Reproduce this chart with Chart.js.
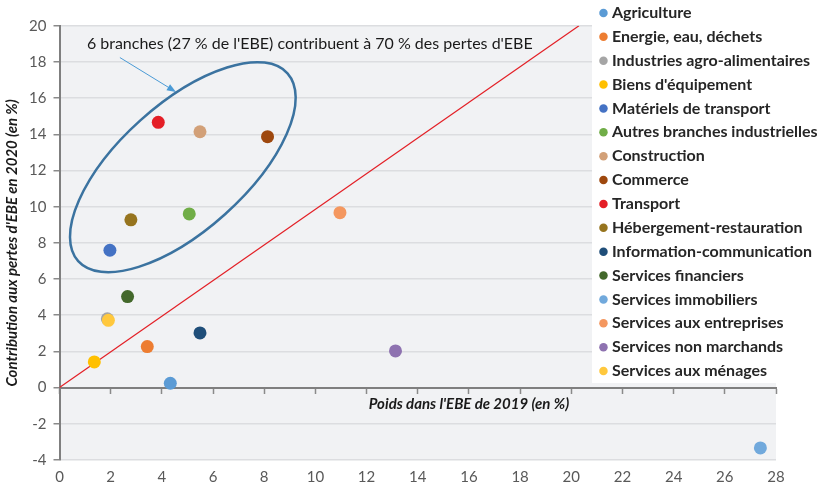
<!DOCTYPE html>
<html lang="fr">
<head>
<meta charset="utf-8">
<title>Contribution aux pertes d'EBE</title>
<script src="https://cdn.jsdelivr.net/npm/chart.js@4.4.1/dist/chart.umd.min.js"></script>
<style>
  html, body { margin: 0; padding: 0; background: #fff; }
  canvas { display: block; }
</style>
</head>
<body>
<canvas id="myChart" width="831" height="486"></canvas>
<script>
// donnees
var branches = [
    "Agriculture",
    "Energie, eau, déchets",
    "Industries agro-alimentaires",
    "Biens d'équipement",
    "Matériels de transport",
    "Autres branches industrielles",
    "Construction",
    "Commerce",
    "Transport",
    "Hébergement-restauration",
    "Information-communication",
    "Services financiers",
    "Services immobiliers",
    "Services aux entreprises",
    "Services non marchands",
    "Services aux ménages"
];
var poids2019 = [4.33, 3.43, 1.87, 1.36, 1.97, 5.07, 5.49, 8.13, 3.86, 2.79, 5.49, 2.66, 27.39, 10.96, 13.13, 1.91];
var pertes2020 = [0.24, 2.27, 3.80, 1.42, 7.59, 9.60, 14.14, 13.87, 14.66, 9.27, 3.02, 5.03, -3.33, 9.67, 2.03, 3.72];
var couleurs = [
    "#5b9bd5", "#ed7d31", "#a5a5a5", "#ffc000",
    "#4472c4", "#70ad47", "#d2a078", "#9e480e",
    "#e41e26", "#96741e", "#1f4e79", "#43682b",
    "#71a9dc", "#f4975f", "#8e72b0", "#ffc83d"
];
var diagonaleX = [0, 20.3];
var diagonaleY = [0, 20];

var texteBulle = "6 branches (27 % de l'EBE) contribuent à 70 % des pertes d'EBE";
var titreX = "Poids dans l'EBE de 2019 (en %)";
var titreY = "Contribution aux pertes d'EBE en 2020 (en %)";

// placement des annotations (en unites des axes)
var bullePos = { x: 1.07, y: 19.0 };
var flecheDe = { x: 2.36, y: 18.24 };
var flecheA = { x: 4.55, y: 16.34 };
var ellipseCentre = { x: 4.82, y: 12.18 };

var police = "Lato";

var datasets = [];
for (var i = 0; i < branches.length; i++) {
    datasets.push({
        label: branches[i],
        data: [{ x: poids2019[i], y: pertes2020[i] }],
        backgroundColor: couleurs[i],
        borderColor: couleurs[i],
        borderWidth: 0,
        pointRadius: 6.5,
        pointHoverRadius: 6.5,
        order: branches.length - i
    });
}
var diag = [];
for (var j = 0; j < diagonaleX.length; j++) {
    diag.push({ x: diagonaleX[j], y: diagonaleY[j] });
}
datasets.push({
    type: 'line',
    label: 'diagonale',
    data: diag,
    borderColor: '#e31f26',
    borderWidth: 1.2,
    pointRadius: 0,
    fill: false,
    order: 100
});

var decor = {
    id: 'decor',
    beforeDraw: function (chart) {
        var a = chart.chartArea;
        var ctx = chart.ctx;
        ctx.save();
        ctx.fillStyle = '#f1f2f4';
        ctx.fillRect(a.left, a.top, a.right - a.left, a.bottom - a.top);
        ctx.restore();
    },
    afterLayout: function (chart) {
        var l = chart.legend;
        l.left = 595.1;
        l.top = -2.9;
        l.right = 831;
        l.bottom = 486;
    },
    afterDraw: function (chart) {
        var ctx = chart.ctx;
        var sx = chart.scales.x, sy = chart.scales.y;
        ctx.save();
        // fond blanc de la legende
        ctx.fillStyle = '#ffffff';
        ctx.fillRect(592, 0, 239, 383);
        ctx.restore();
        chart.legend.draw();

        ctx.save();
        // texte de la bulle
        ctx.font = '16px ' + police;
        ctx.fillStyle = '#1a1a1a';
        ctx.textBaseline = 'middle';
        ctx.textAlign = 'left';
        ctx.fillText(texteBulle, sx.getPixelForValue(bullePos.x), sy.getPixelForValue(bullePos.y));

        // fleche
        var x1 = sx.getPixelForValue(flecheDe.x), y1 = sy.getPixelForValue(flecheDe.y);
        var x2 = sx.getPixelForValue(flecheA.x), y2 = sy.getPixelForValue(flecheA.y);
        var ang = Math.atan2(y2 - y1, x2 - x1);
        ctx.strokeStyle = '#4b9bd6';
        ctx.fillStyle = '#4b9bd6';
        ctx.lineWidth = 1;
        ctx.beginPath();
        ctx.moveTo(x1, y1);
        ctx.lineTo(x2 - 8 * Math.cos(ang), y2 - 8 * Math.sin(ang));
        ctx.stroke();
        ctx.beginPath();
        ctx.moveTo(x2, y2);
        ctx.lineTo(x2 - 9 * Math.cos(ang) + 3.5 * Math.sin(ang), y2 - 9 * Math.sin(ang) - 3.5 * Math.cos(ang));
        ctx.lineTo(x2 - 9 * Math.cos(ang) - 3.5 * Math.sin(ang), y2 - 9 * Math.sin(ang) + 3.5 * Math.cos(ang));
        ctx.closePath();
        ctx.fill();

        // ellipse autour des 6 branches
        ctx.beginPath();
        ctx.ellipse(sx.getPixelForValue(ellipseCentre.x), sy.getPixelForValue(ellipseCentre.y),
            140.6, 63.2, -41.9 * Math.PI / 180, 0, 2 * Math.PI);
        ctx.strokeStyle = '#3b73a0';
        ctx.lineWidth = 2.5;
        ctx.stroke();

        // titre de l'axe des x, sous la ligne du zero
        ctx.font = 'italic bold 15px ' + police;
        ctx.fillStyle = '#1a1a1a';
        ctx.textAlign = 'center';
        ctx.fillText(titreX, sx.getPixelForValue(16), sy.getPixelForValue(0) + 17);
        ctx.restore();
    }
};

var ctx = document.getElementById("myChart");
var myChart = new Chart(ctx, {
    type: 'scatter',
    data: { datasets: datasets },
    options: {
        responsive: false,
        animation: false,
        devicePixelRatio: 1,
        layout: { padding: { top: 25.7, right: 55, left: 0, bottom: 0 } },
        plugins: {
            tooltip: { enabled: false },
            legend: {
                position: 'chartArea',
                align: 'start',
                labels: {
                    usePointStyle: true,
                    pointStyle: 'circle',
                    boxWidth: 1,
                    boxHeight: 6,
                    padding: 7.87,
                    color: '#262626',
                    font: { family: police, size: 16, weight: 'bold' },
                    filter: function (item) { return item.datasetIndex < branches.length; },
                    sort: function (a, b) { return a.datasetIndex - b.datasetIndex; }
                }
            }
        },
        scales: {
            x: {
                type: 'linear',
                position: 'bottom',
                min: 0,
                max: 28,
                ticks: { stepSize: 2, color: '#595959', font: { family: police, size: 15 }, padding: 0 },
                grid: { display: false },
                border: { display: false },
                afterFit: function (s) { s.height = 26; }
            },
            x0: {
                type: 'linear',
                axis: 'x',
                position: { y: 0 },
                min: 0,
                max: 28,
                ticks: { stepSize: 2, display: false },
                grid: { drawOnChartArea: false, drawTicks: true, tickLength: 5, tickColor: '#8a8a8a', tickWidth: 1.5 },
                border: { color: '#7f7f7f', width: 2 }
            },
            y: {
                type: 'linear',
                position: 'left',
                min: -4,
                max: 20,
                ticks: { stepSize: 2, color: '#595959', font: { family: police, size: 15 }, padding: 7 },
                grid: { color: '#dcdde0', lineWidth: 1.5, tickColor: '#8a8a8a', tickLength: 6, tickWidth: 1.5 },
                border: { color: '#7f7f7f', width: 2 },
                title: {
                    display: true,
                    text: titreY,
                    color: '#1a1a1a',
                    font: { family: police, size: 15, weight: 'bold', style: 'italic' },
                    padding: { top: 3, bottom: 0 }
                },
                afterFit: function (s) { s.width = 59.5; }
            }
        }
    },
    plugins: [decor]
});
</script>
</body>
</html>
